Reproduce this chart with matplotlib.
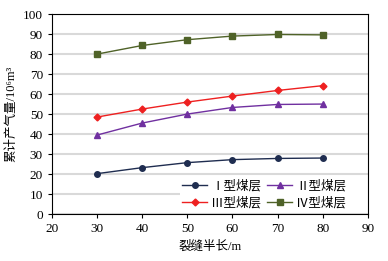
import matplotlib
matplotlib.use("Agg")
import matplotlib.pyplot as plt
from matplotlib.patches import Rectangle

plt.rcParams['font.family'] = ['Liberation Serif', 'Noto Sans CJK SC', 'DejaVu Sans']

radius = [30, 40, 50, 60, 70, 80]
seam1 = [20.2, 23.2, 25.7, 27.2, 27.8, 28.0]
seam2 = [39.5, 45.5, 50.0, 53.3, 54.8, 55.0]
seam3 = [48.5, 52.5, 56.0, 59.0, 61.8, 64.2]
seam4 = [80.0, 84.3, 87.2, 89.0, 89.8, 89.6]
labels = ["Ⅰ型煤层", "Ⅱ型煤层", "Ⅲ型煤层", "Ⅳ型煤层"]

fig = plt.figure(figsize=(3.88, 2.61), dpi=100)
ax = fig.add_axes([0.134, 0.18, 0.814, 0.766])

l1, = ax.plot(radius, seam1, color="#1f2d50", marker="o", ms=4, lw=1)
l2, = ax.plot(radius, seam2, color="#7030a0", marker="^", ms=4, lw=1)
l3, = ax.plot(radius, seam3, color="#ee2020", marker="D", ms=3.5, lw=1)
l4, = ax.plot(radius, seam4, color="#4f6228", marker="s", ms=4.5, lw=1)

ax.set_xlim(20, 90)
ax.set_ylim(0, 100)
ax.set_xticks(range(20, 91, 10))
ax.set_yticks(range(0, 101, 10))
ax.grid(axis="y", color="#d9d9d9", lw=1.5)
ax.set_axisbelow(True)
ax.tick_params(labelsize=9.5, length=3, direction="out")

ax.set_xlabel("裂缝半长/m", fontsize=9)
ax.set_ylabel("累计产气量/10⁶m³", fontsize=9)

# white legend box reaches to the right edge in the original
ax.add_patch(Rectangle((0.405, 0.02), 0.595, 0.165, transform=ax.transAxes,
                       facecolor="white", edgecolor="none", zorder=1))

# matplotlib fills legend columns first, so reorder to get I II / III IV rows
leg = ax.legend([l1, l3, l2, l4], [labels[0], labels[2], labels[1], labels[3]],
                ncol=2, loc="lower left", bbox_to_anchor=(0.413, 0.025), fontsize=9,
                frameon=False, borderaxespad=0, borderpad=0,
                handlelength=2.0, columnspacing=0.5, handletextpad=0.3,
                labelspacing=0.3)

fig.savefig("out.png", dpi=100)
